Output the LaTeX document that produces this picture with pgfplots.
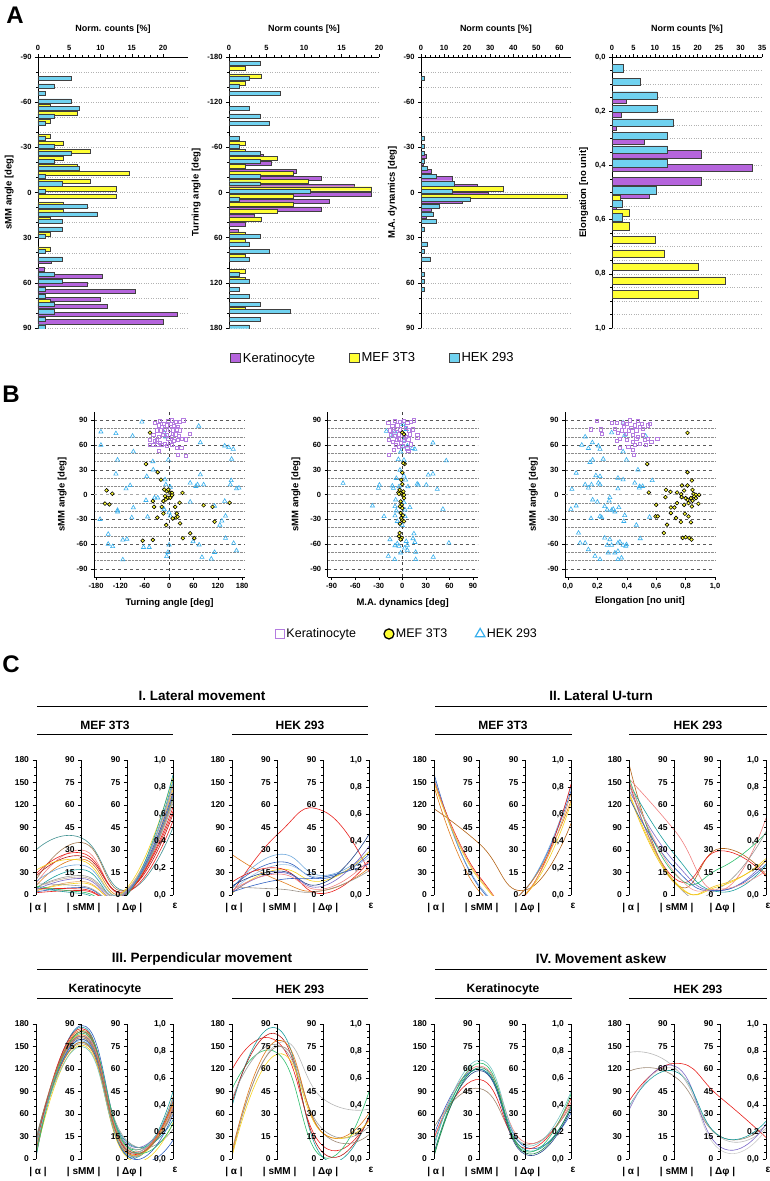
\documentclass[border=0pt]{standalone}
\usepackage{fontspec}
\setmainfont{Liberation Sans}
\usepackage{pgfplots}
\pgfplotsset{compat=1.18}

\definecolor{ker}{HTML}{B564DC}
\definecolor{mef}{HTML}{FFFF33}
\definecolor{hek}{HTML}{70D2F0}
\definecolor{kerM}{HTML}{B47CE0}
\definecolor{hekM}{HTML}{36AEEC}
\definecolor{cRed}{HTML}{E8201C}
\definecolor{cOrange}{HTML}{E07B1A}
\definecolor{cYellow}{HTML}{F5D21A}
\definecolor{cBlue}{HTML}{3060C0}
\definecolor{cLBlue}{HTML}{6FA8DC}
\definecolor{cTeal}{HTML}{1A9E9E}
\definecolor{cGreen}{HTML}{2DBE6C}
\definecolor{cGray}{HTML}{9A9A9A}
\definecolor{cBrown}{HTML}{A07850}
\definecolor{cPink}{HTML}{F08080}
\definecolor{cPurple}{HTML}{7B68C8}

\pgfplotsset{
  histA/.style={
    scale only axis, width=150pt, height=271pt, anchor=north west,
    xbar, y dir=reverse, xmin=0, enlargelimits=false,
    axis x line*=top, axis y line*=left,
    tick align=outside, major tick length=3pt, minor tick length=1.8pt,
    every tick/.style={black, line width=0.5pt},
    axis line style={black, line width=0.6pt},
    ymajorgrids, yminorgrids,
    major grid style={dotted, black!30, line width=0.45pt},
    minor grid style={dotted, black!30, line width=0.45pt},
    ticklabel style={font=\bfseries\fontsize{7.5}{8}\selectfont},
    xlabel style={font=\bfseries\fontsize{9}{10}\selectfont,
      at={(axis description cs:0.5,1)}, anchor=south, yshift=20pt},
    ylabel style={font=\bfseries\fontsize{9.5}{10}\selectfont},
    /pgf/number format/assume math mode=true,
    minor x tick num=4,
    every axis plot/.append style={draw=black!75, line width=0.45pt},
  },
  scatB/.style={
    scale only axis, height=165pt, anchor=north west,
    axis lines*=left, enlargelimits=false, clip=false,
    ymin=-100, ymax=100, ytick={-90,-60,...,90},
    minor ytick={-80,-70,-50,-40,-20,-10,10,20,40,50,70,80},
    ymajorgrids, yminorgrids,
    major grid style={dashed, black!65, line width=0.5pt},
    minor grid style={densely dotted, black!45, line width=0.5pt},
    tick align=outside, major tick length=3pt, minor tick length=0pt,
    every tick/.style={black, line width=0.5pt},
    axis line style={black, line width=0.6pt},
    extra y ticks={0}, extra y tick labels={},
    extra y tick style={grid=major, major grid style={black!35, line width=1.4pt}, major tick length=0pt},
    ticklabel style={font=\bfseries\fontsize{7.5}{8}\selectfont},
    label style={font=\bfseries\fontsize{9.5}{10}\selectfont},
    ylabel={sMM angle [deg]},
    /pgf/number format/assume math mode=true,
  },
  vline0/.style={extra x ticks={0}, extra x tick labels={},
    extra x tick style={grid=major, major grid style={black!75, line width=0.6pt}, major tick length=0pt}},
  kerS/.style={only marks, mark=square, mark size=1.6pt, mark options={draw=kerM, line width=0.5pt, fill=none}},
  mefS/.style={only marks, mark=*, mark size=1.9pt, mark options={fill=mef, draw=black, line width=0.6pt}},
  hekS/.style={only marks, mark=triangle, mark size=2.4pt, mark options={draw=hekM, line width=0.6pt}},
  paraY/.style={
    scale only axis, width=1pt, height=135pt, anchor=south west,
    xmin=0, xmax=1, ymin=0, axis x line=none, axis y line*=left,
    tick align=outside, major tick length=3.5pt, minor tick length=2pt,
    every tick/.style={black, line width=0.5pt},
    axis line style={line width=0.7pt, black},
    yticklabel style={font=\bfseries\fontsize{8.5}{9}\selectfont},
    /pgf/number format/assume math mode=true,
  },
  paraD/.style={
    scale only axis, width=137pt, height=135pt, anchor=south west,
    xmin=0, xmax=3, ymin=0, ymax=180,
    axis line style={draw=none}, ytick=\empty,
    xtick={0,1,2,3}, xticklabels={{| α |},{| sMM |},{| Δφ |},{ε}},
    xtick style={draw=none}, major tick length=0pt,
    xticklabel style={font=\bfseries\fontsize{10}{11}\selectfont, yshift=-5pt, xshift=2pt},
    clip mode=individual,
    every axis plot/.append style={smooth, tension=0.9, line width=0.6pt, no marks},
  },
}

% one line of a parallel-coordinates plot: alpha (0-180), sMM (0-90), dphi (0-90), eps (0-1)
\newcommand\pc[5]{%
  \pgfmathsetmacro\ys{2*#3}\pgfmathsetmacro\yd{2*#4}\pgfmathsetmacro\ye{180*#5}%
  \edef\pctmp{\noexpand\addplot[\unexpanded{#1}] coordinates {(0,#2) (1,\ys) (2,\yd) (3,\ye)};}\pctmp}

\newcommand\paraaxes[2]{%
  \begin{axis}[paraY, at={(#1pt,-#2pt)}, ymax=180, ytick={0,30,...,180}, minor y tick num=2]
    \addplot[draw=none] coordinates {(0,0)};
  \end{axis}
  \begin{axis}[paraY, at={(#1pt+45.67pt,-#2pt)}, ymax=90, ytick={0,15,...,90}, minor y tick num=2]
    \addplot[draw=none] coordinates {(0,0)};
  \end{axis}
  \begin{axis}[paraY, at={(#1pt+91.33pt,-#2pt)}, ymax=90, ytick={0,15,...,90}, minor y tick num=2]
    \addplot[draw=none] coordinates {(0,0)};
  \end{axis}
  \begin{axis}[paraY, at={(#1pt+137pt,-#2pt)}, ymax=1, ytick={0,0.2,0.4,0.6,0.8,1}, minor y tick num=3,
      yticklabel style={/pgf/number format/.cd, use comma, fixed, fixed zerofill, precision=1}]
    \addplot[draw=none] coordinates {(0,0)};
  \end{axis}}

\begin{document}
\begin{tikzpicture}
\useasboundingbox (0,0) rectangle (769pt,-1181pt);

% ---------------- A ----------------
\node[font=\bfseries\fontsize{24}{26}\selectfont] at (15pt,-15pt) {A};

\begin{axis}[histA, at={(38pt,-57pt)}, xmax=24, xtick={0,5,...,20},
  ymin=-90, ymax=90, ytick={-90,-60,...,90}, minor y tick num=2, bar width=2.7,
  xlabel={Norm. counts [\%]}, ylabel={sMM angle [deg]}]
\addplot[fill=ker, bar shift=-1.667] coordinates {(2.1,47.5)(1.0,52.5)(10.2,57.5)(7.8,62.5)(15.5,67.5)(9.9,72.5)(11.1,77.5)(22.2,82.5)(20.0,87.5)};
\addplot[fill=mef, bar shift=0] coordinates {(2.0,-57.5)(6.2,-52.5)(2.0,-47.5)(2.0,-37.5)(4.1,-32.5)(8.3,-27.5)(4.1,-22.5)(6.2,-17.5)(14.6,-12.5)(8.3,-7.5)(12.5,-2.5)(12.5,2.5)(4.1,7.5)(4.1,12.5)(2.0,17.5)(2.0,27.5)(2.0,37.5)(2.0,72.5)};
\addplot[fill=hek, bar shift=1.667] coordinates {(5.25,-77.5)(2.6,-72.5)(1.2,-67.5)(5.25,-62.5)(6.6,-57.5)(2.6,-52.5)(1.2,-47.5)(1.2,-37.5)(2.6,-32.5)(5.25,-27.5)(2.6,-22.5)(6.6,-17.5)(1.2,-12.5)(3.9,-7.5)(1.2,-2.5)(7.9,7.5)(9.4,12.5)(3.9,17.5)(3.9,22.5)(1.2,27.5)(1.2,37.5)(3.9,42.5)(2.6,52.5)(3.9,57.5)(1.2,62.5)(1.2,67.5)(2.6,72.5)(2.6,77.5)(1.2,82.5)(1.2,87.5)};
\end{axis}

\begin{axis}[histA, at={(229pt,-57pt)}, xmax=20, xtick={0,5,...,20},
  ymin=-180, ymax=180, ytick={-180,-120,...,180}, minor y tick num=2, bar width=5.3,
  xlabel={Norm counts [\%]}, ylabel={Turning angle [deg]},
  legend image code/.code={\draw[#1] (0pt,-4.5pt) rectangle (10pt,4.5pt);},
  legend style={at={(axis description cs:0.96,-0.111)}, anchor=center, draw=none, fill=none,
    font=\fontsize{13}{14}\selectfont, legend columns=3,
    /tikz/every even column/.append style={column sep=32pt}}]
\addplot[forget plot, fill=ker, bar shift=-3.333] coordinates {(4.5,-45)(5.6,-35)(8.9,-25)(12.3,-15)(16.7,-5)(19.0,5)(13.4,15)(12.3,25)(3.3,35)(2.2,45)(1.2,55)};
\addplot[forget plot, fill=mef, bar shift=0] coordinates {(2.2,-165)(4.3,-155)(2.2,-145)(2.2,-65)(2.2,-55)(6.4,-45)(2.2,-35)(8.5,-25)(10.6,-15)(19.0,-5)(8.5,5)(8.5,15)(6.4,25)(4.3,35)(2.2,55)(2.2,65)(2.2,85)(2.2,105)(2.2,115)(2.2,155)};
\addplot[forget plot, fill=hek, bar shift=3.333] coordinates {(4.1,-175)(2.65,-155)(1.3,-145)(6.8,-135)(2.65,-115)(4.1,-105)(5.4,-95)(1.3,-75)(1.3,-65)(4.1,-55)(4.1,-45)(4.1,-25)(4.1,-15)(10.8,-5)(1.3,5)(4.1,55)(2.65,65)(5.4,75)(2.65,85)(1.3,105)(2.65,115)(1.3,125)(2.65,135)(4.1,145)(8.1,155)(4.1,165)(2.65,175)};
\addlegendimage{fill=ker, draw=black!75, line width=0.5pt}\addlegendentry{Keratinocyte}
\addlegendimage{fill=mef, draw=black!75, line width=0.5pt}\addlegendentry{MEF 3T3}
\addlegendimage{fill=hek, draw=black!75, line width=0.5pt}\addlegendentry{HEK 293}
\end{axis}

\begin{axis}[histA, at={(421pt,-57pt)}, xmax=65, xtick={0,10,...,60},
  ymin=-90, ymax=90, ytick={-90,-60,...,90}, minor y tick num=2, bar width=2.7,
  xlabel={Norm counts [\%]}, ylabel={M.A. dynamics [deg]}]
\addplot[fill=ker, bar shift=-1.667] coordinates {(2.2,-22.5)(1.0,-17.5)(4.3,-12.5)(13.4,-7.5)(24.5,-2.5)(29,2.5)(17.7,7.5)(4.3,12.5)(2.2,17.5)};
\addplot[fill=mef, bar shift=0] coordinates {(35.8,-2.5)(63.5,2.5)};
\addplot[fill=hek, bar shift=1.667] coordinates {(1.2,-77.5)(1.2,-37.5)(1.2,-32.5)(1.2,-27.5)(1.5,-22.5)(2.6,-17.5)(6.6,-12.5)(14.6,-7.5)(13.4,-2.5)(21.4,2.5)(7.8,7.5)(5.2,12.5)(6.6,17.5)(1.2,22.5)(2.6,32.5)(1.2,37.5)(4.0,42.5)(1.2,52.5)(1.2,57.5)(1.2,62.5)};
\end{axis}

\begin{axis}[histA, at={(612pt,-57pt)}, xmax=35, xtick={0,5,...,35},
  ymin=0, ymax=1, ytick={0,0.2,0.4,0.6,0.8,1}, minor y tick num=3, bar width=0.027,
  yticklabel style={/pgf/number format/.cd, use comma, fixed, fixed zerofill, precision=1},
  xlabel={Norm counts [\%]}, ylabel={Elongation [no unit]}]
\addplot[fill=ker, bar shift=-0.01667] coordinates {(3.3,0.175)(2.1,0.225)(1.0,0.275)(7.6,0.325)(20.8,0.375)(32.8,0.425)(20.8,0.475)(8.8,0.525)(1.0,0.575)(1.0,0.625)};
\addplot[fill=mef, bar shift=0] coordinates {(2.0,0.525)(4.1,0.575)(4.0,0.625)(10.1,0.675)(12.1,0.725)(20.2,0.775)(26.4,0.825)(20.2,0.875)};
\addplot[fill=hek, bar shift=0.01667] coordinates {(2.6,0.025)(6.5,0.075)(10.5,0.125)(10.5,0.175)(14.4,0.225)(13.0,0.275)(13.0,0.325)(13.0,0.375)(10.4,0.475)(2.5,0.525)(2.5,0.575)};
\end{axis}

% ---------------- B ----------------
\node[font=\bfseries\fontsize{24}{26}\selectfont] at (11pt,-394pt) {B};

\begin{axis}[scatB, vline0, at={(94pt,-412pt)}, width=151pt, xmin=-185, xmax=187,
  xtick={-180,-120,...,180}, xlabel={Turning angle [deg]}]
\addplot[hekS] coordinates {(-67,88)(-168,76)(-168,60)(-131,74)(-90,71)(-88,52)(-127,42)(-131,25)(-96,11)(-106,7)(-57,-7)(-55,22)(-40,40)(-39,30)(-12,75)(-8,70)(-2,42)(73,83)(77,63)(77,24)(52,14)(66,10)(70,12)(85,12)(137,59)(147,57)(158,55)(154,43)(153,17)(151,12)(166,7)(172,8)(-36,-4)(-10,18)(-8,12)(3,9)(-28,-4)(-127,-19)(-127,-21)(-88,-16)(-92,-28)(-53,-27)(-170,-30)(-16,-16)(-12,-18)(0,-22)(3,-26)(52,-9)(112,-14)(137,-8)(139,-26)(130,-32)(125,-37)(-150,-48)(-150,-60)(-139,-63)(-114,-55)(-104,-54)(-63,-64)(-49,-64)(0,-61)(-3,-70)(-6,-75)(59,-57)(74,-61)(81,-76)(104,-78)(112,-70)(139,-53)(159,-59)(166,-68)(-114,-79)};
\addplot[kerS] coordinates {(-35,87)(-24,89)(-14,86)(-2,89)(7,90)(17,88)(26,88)(35,90)(-26,84)(-18,82)(-6,84)(5,86)(12,83)(21,82)(-31,78)(-20,78)(-10,79)(1,79)(9,78)(19,79)(27,78)(50,74)(-39,72)(-26,70)(-16,72)(-6,72)(7,70)(15,73)(23,71)(31,68)(42,67)(-47,66)(-35,65)(-24,63)(-10,62)(2,64)(11,65)(21,66)(-47,60)(-39,60)(-29,60)(-18,60)(-6,59)(7,60)(19,57)(30,57)(-26,53)(21,48)(41,47)(-31,66)(-2,68)(9,74)};
\addplot[mefS] coordinates {(-47,75)(-57,37)(-28,27)(-20,18)(-154,5)(-140,1)(-158,-11)(-147,-12)(-40,-8)(-37,-15)(-29,-28)(-12,6)(-6,4)(-2,6)(3,2)(7,2)(-10,-2)(-3,-4)(3,-4)(-14,-8)(-8,-6)(-18,-15)(-14,-23)(15,-15)(19,-23)(17,-28)(21,-27)(9,-29)(26,-10)(33,2)(-7,-37)(27,-35)(85,-13)(107,-15)(112,-33)(149,-10)(-65,-56)(-40,-55)(34,-53)(52,-47)(62,-53)(7,-1)};
\end{axis}

\begin{axis}[scatB, vline0, at={(327.7pt,-412pt)}, width=150pt, xmin=-95, xmax=96,
  xtick={-90,-60,...,90}, xlabel={M.A. dynamics [deg]},
  legend style={at={(axis description cs:0.53,-0.345)}, anchor=center, draw=none, fill=none,
    font=\fontsize{12.5}{14}\selectfont, legend columns=3,
    /tikz/every even column/.append style={column sep=26pt}}]
\addplot[forget plot, hekS] coordinates {(-20.3,76.7)(-12.7,71)(-9.3,76)(0.8,85)(5,79)(2.1,66)(6.4,59)(12.7,56)(16,55)(39,62.7)(56,41)(-5,42.6)(2.1,41.8)(-2.1,51.8)(-3,29.7)(2.1,22.5)(-7.6,19.7)(4.2,17.7)(19,12.9)(20.3,11.6)(33,23.7)(39,25)(30.5,11.6)(44.5,6.4)(-75.4,13.7)(-29.2,11.6)(-30.5,7.6)(-12.7,10.4)(-11.4,7.6)(-4.2,9.6)(7.2,9.6)(-38,-13.7)(-23.3,-26.5)(-8.5,-6.4)(-9.3,-14.5)(-7.6,-19.7)(-9.3,-25.7)(-6.4,-32.5)(2.1,-9.6)(3.4,-18.5)(9.7,-15.7)(3.4,-26.5)(0,-37.4)(51.7,-17.7)(14.8,-47.4)(13.6,-53.4)(16,-57.9)(5,-56.7)(6.4,-61.5)(3,-64.7)(-15.7,-54.6)(-6.4,-59.5)(-4.2,-62.7)(-9.3,-61.9)(-2.1,-70.7)(6.4,-67.5)(17,-69.9)(-17.8,-74.7)(-9.7,-78.7)(17,-78.7)(39.4,-75.9)(59.3,-58.7)(1.3,57.8)};
\addplot[forget plot, kerS] coordinates {(-17.8,87)(-12.7,83)(-9.3,89)(-6.4,84)(-3,88)(2.1,89)(6.4,87)(10.6,88)(14.8,90)(-16,78)(-10.6,77)(-7.6,80)(-3.4,79)(4.2,81)(8.5,78)(13.6,79)(-14.8,72)(-9.3,71)(-5,73)(2.1,72)(9.7,73)(19,72)(19,69)(-17,66)(-11.9,64)(-7.2,66)(-2.1,63)(2.1,65)(7.6,67)(-8.5,60)(-4.2,58)(0,59)(6.4,56)(7.6,53)(-17,48)(-11.4,54)(10.6,61)(-5,68)(4.2,70)};
\addplot[forget plot, mefS] coordinates {(0,75)(2.1,73)(3,37)(1.3,38)(0,26.5)(-1.3,17.7)(0,12.5)(-3.4,5.6)(-5,2.4)(-2.1,1.6)(1.3,3.6)(1.3,-1.6)(2.1,-4.4)(-2.1,-8.4)(-0.8,-12.5)(-3,-14.5)(0,-16.5)(-2.1,-22.5)(0.8,-25.3)(-1.3,-28.5)(0,-31.3)(2.1,-32.5)(-3,-35.4)(-3.4,-46.6)(-4.2,-50.6)(-0.8,-52.6)(-2.1,-54.6)(2.1,-0.4)(-4.2,0.8)};
\addlegendimage{only marks, mark=square, mark size=4.5pt, mark options={draw=kerM, line width=1.1pt}}\addlegendentry{Keratinocyte}
\addlegendimage{only marks, mark=*, mark size=5pt, mark options={fill=mef, draw=black, line width=1.3pt}}\addlegendentry{MEF 3T3}
\addlegendimage{only marks, mark=triangle, mark size=5.5pt, mark options={draw=hekM, line width=1.2pt}}\addlegendentry{HEK 293}
\end{axis}

\begin{axis}[scatB, at={(565pt,-412pt)}, width=150pt, xmin=-0.02, xmax=1,
  xtick={0,0.2,0.4,0.6,0.8,1}, xlabel={Elongation [no unit]},
  xticklabel style={/pgf/number format/.cd, use comma, fixed, fixed zerofill, precision=1}]
\addplot[hekS] coordinates {(0.375,87)(0.297,75)(0.386,72)(0.117,70)(0.094,60)(0.139,56)(0.166,63)(0.207,59)(0.218,55)(0.375,52)(0.24,43)(0.15,39)(0.168,42)(0.398,42)(0.476,30)(0.056,26)(0.19,23)(0.218,22)(0.207,14)(0.218,12)(0.117,12)(0.139,8)(0.16,12)(0.34,20)(0.375,18)(0.34,7)(0.454,14)(0.488,10)(0.485,8)(0.508,10)(0.573,17)(0.027,6.4)(0.528,71)(0.285,-3.6)(0.28,-7.6)(0.168,-6.4)(0.2,-9)(0.056,-13.7)(0.02,-17.7)(0.157,-29)(0.218,-26.5)(0.229,-27.7)(0.25,-14.5)(0.267,-18.5)(0.297,-19)(0.319,-21)(0.308,-17.7)(0.346,-15.7)(0.386,-25.3)(0.38,-32.5)(0.555,-27.3)(0.465,-37)(0.492,-53.4)(0.072,-46.6)(0.083,-58.7)(0.117,-58.7)(0.139,-66.7)(0.25,-52.6)(0.285,-54.6)(0.267,-61.5)(0.297,-61.5)(0.274,-70.7)(0.319,-70.7)(0.184,-74.7)(0.218,-78.7)(0.34,-58.7)(0.375,-61.5)(0.393,-62.7)(0.398,-60.7)(0.34,-78.7)(0.364,-76.7)(0.34,-68.7)(0.353,-57.5)};
\addplot[kerS] coordinates {(0.155,79)(0.195,89)(0.222,79)(0.229,74)(0.297,87)(0.33,87)(0.32,80)(0.34,75)(0.33,65)(0.353,68)(0.353,57)(0.375,87)(0.393,74)(0.398,66)(0.41,58)(0.42,90)(0.43,81)(0.443,72)(0.443,64)(0.438,54)(0.447,48)(0.454,84)(0.465,78)(0.476,89)(0.476,70)(0.488,62)(0.5,86)(0.51,80)(0.51,72)(0.52,66)(0.528,60)(0.544,84)(0.555,86)(0.544,68)(0.566,64)(0.607,68)(0.488,82)(0.465,68)(0.416,78)(0.38,82)(0.364,78)(0.398,86)(0.454,60)};
\addplot[mefS] coordinates {(0.813,74.7)(0.539,37)(0.55,2.4)(0.813,27)(0.843,17)(0.775,11)(0.813,11)(0.667,5.6)(0.697,3.2)(0.742,2.4)(0.77,0.4)(0.79,4.8)(0.847,5.6)(0.854,0.8)(0.87,-0.4)(0.892,-0.4)(0.858,-2.4)(0.836,-4.4)(0.813,-6.4)(0.847,-7.6)(0.8,-4.4)(0.773,-3.2)(0.79,-12.5)(0.82,-10.4)(0.843,-14.5)(0.887,-11.2)(0.87,-4.4)(0.6,-12.5)(0.596,-26.5)(0.611,-26.5)(0.663,-3.2)(0.7,-15.7)(0.724,-15.7)(0.7,-22.5)(0.742,-10.4)(0.735,-28.5)(0.674,-36.6)(0.768,-33.3)(0.795,-23.3)(0.82,-26.5)(0.836,-33.7)(0.652,-46.6)(0.78,-52.6)(0.8,-51.8)(0.825,-52.6)(0.84,-54.6)};
\end{axis}

% ---------------- C ----------------
\node[font=\bfseries\fontsize{24}{26}\selectfont] at (11pt,-664pt) {C};
\tikzset{ttl/.style={font=\bfseries\fontsize{13.5}{15}\selectfont}, sub/.style={font=\bfseries\fontsize{12}{13}\selectfont}}
\node[ttl] at (202pt,-696pt) {I. Lateral movement};
\draw[line width=0.8pt] (37pt,-706pt) -- (368pt,-706pt);
\node[ttl] at (601pt,-696pt) {II. Lateral U-turn};
\draw[line width=0.8pt] (435pt,-706pt) -- (767pt,-706pt);
\node[sub] at (105pt,-725pt) {MEF 3T3};
\draw[line width=0.8pt] (37pt,-734pt) -- (173pt,-734pt);
\node[sub] at (300pt,-725pt) {HEK 293};
\draw[line width=0.8pt] (232pt,-734pt) -- (368pt,-734pt);
\node[sub] at (503pt,-725pt) {MEF 3T3};
\draw[line width=0.8pt] (435pt,-734pt) -- (572pt,-734pt);
\node[sub] at (698pt,-725pt) {HEK 293};
\draw[line width=0.8pt] (629pt,-734pt) -- (767pt,-734pt);

\node[ttl] at (202pt,-959pt) {III. Perpendicular movement};
\draw[line width=0.8pt] (37pt,-969pt) -- (368pt,-969pt);
\node[ttl] at (601pt,-959pt) {IV. Movement askew};
\draw[line width=0.8pt] (435pt,-969pt) -- (767pt,-969pt);
\node[sub] at (105pt,-989pt) {Keratinocyte};
\draw[line width=0.8pt] (37pt,-998pt) -- (173pt,-998pt);
\node[sub] at (300pt,-989pt) {HEK 293};
\draw[line width=0.8pt] (232pt,-998pt) -- (368pt,-998pt);
\node[sub] at (503pt,-989pt) {Keratinocyte};
\draw[line width=0.8pt] (435pt,-998pt) -- (572pt,-998pt);
\node[sub] at (698pt,-989pt) {HEK 293};
\draw[line width=0.8pt] (629pt,-998pt) -- (767pt,-998pt);

% I. MEF 3T3
\begin{axis}[paraD, at={(36pt,-895pt)}]
\pc{cTeal!60!gray}{60}{38}{3}{0.50}
\pc{cBrown}{20}{35}{4}{0.75}
\pc{cPink}{15}{30}{3}{0.80}
\pc{cRed}{28}{28}{2}{0.55}
\pc{cRed!80!black}{25}{26}{3}{0.60}
\pc{cOrange}{12}{24}{2}{0.72}
\pc{cYellow}{33}{23}{2}{0.78}
\pc{cTeal}{8}{17}{2}{0.85}
\pc{cGray}{10}{13}{3}{0.70}
\pc{cBrown!60}{10}{12}{4}{0.80}
\pc{cOrange!70}{5}{9}{3}{0.82}
\pc{cYellow}{6}{8}{5}{0.87}
\pc{cBlue}{4}{5}{2}{0.76}
\pc{cRed}{3}{3}{1}{0.62}
\pc{cTeal}{10}{1}{0}{0.89}
\pc{cGray}{15}{6}{2}{0.68}
\pc{cRed}{8}{4}{1}{0.65}
\pc{cGreen}{12}{2}{1}{0.73}
\pc{cLBlue}{18}{20}{3}{0.83}
\pc{cPurple}{7}{11}{2}{0.74}
\end{axis}
\paraaxes{36}{895}

% I. HEK 293
\begin{axis}[paraD, at={(232pt,-895pt)}]
\pc{cRed}{2}{40.5}{56}{0.17}
\pc{cOrange}{54}{10}{3}{0.20}
\pc{cLBlue}{8}{27}{13}{0.32}
\pc{cBlue}{10}{22}{11}{0.30}
\pc{cLBlue!70}{5}{20}{12}{0.28}
\pc{cYellow}{2}{17}{9.5}{0.32}
\pc{cRed}{17}{18}{1}{0.25}
\pc{cBlue!70!black}{12}{16}{8}{0.45}
\pc{cPurple}{3}{15}{6}{0.36}
\pc{cBlue}{4}{10}{12}{0.23}
\pc{cGray!80!cBrown}{11}{4}{3}{0.18}
\pc{cPink}{6}{14}{4}{0.26}
\end{axis}
\paraaxes{232}{895}

% II. MEF 3T3
\begin{axis}[paraD, at={(434pt,-895pt)}]
\pc{cOrange!80!black}{115}{34}{3.3}{0.53}
\pc{cBlue}{162}{5}{3.8}{0.77}
\pc{cLBlue}{158}{6}{4}{0.80}
\pc{cRed}{153}{12}{0}{0.82}
\pc{cOrange}{145}{2}{4}{0.70}
\pc{cYellow}{150}{10}{0.5}{0.68}
\pc{cOrange!70}{152}{11}{1}{0.75}
\end{axis}
\paraaxes{434}{895}

% II. HEK 293
\begin{axis}[paraD, at={(629pt,-895pt)}]
\pc{cOrange!80!black}{175}{8}{31}{0.15}
\pc{cPink}{155}{43}{3}{0.57}
\pc{cTeal}{150}{27}{2}{0.22}
\pc{cPurple}{140}{22}{3}{0.26}
\pc{cRed}{152}{11}{29.5}{0.14}
\pc{cGreen}{157}{14}{18}{0.46}
\pc{cGray}{148}{8.5}{5}{0.47}
\pc{cYellow}{138}{9}{6}{0.27}
\pc{cYellow!80!cOrange}{135}{8}{7}{0.25}
\pc{cBlue}{130}{18}{3}{0.23}
\pc{cPink!80}{153}{15}{4}{0.18}
\end{axis}
\paraaxes{629}{895}

% III. Keratinocyte
\begin{axis}[paraD, at={(36pt,-1159pt)}]
\pc{cBlue}{2}{89}{5}{0.14}
\pc{cTeal}{5}{88}{2}{0.50}
\pc{cOrange}{8}{86}{3}{0.46}
\pc{cRed}{10}{85}{6}{0.44}
\pc{cGreen}{12}{84}{8}{0.42}
\pc{cYellow}{14}{83}{4}{0.40}
\pc{cPurple}{16}{82}{10}{0.38}
\pc{cBrown}{18}{81}{6}{0.36}
\pc{cGray}{20}{80}{9}{0.34}
\pc{cLBlue}{22}{79}{3}{0.45}
\pc{cTeal}{25}{78}{11}{0.29}
\pc{cGray}{28}{77}{12}{0.22}
\pc{cYellow}{6}{76}{1}{0.27}
\pc{cRed}{15}{87}{5}{0.43}
\pc{cPink}{9}{83}{7}{0.39}
\pc{cBlue}{11}{80}{2}{0.33}
\pc{cOrange}{13}{78}{4}{0.41}
\pc{cGreen}{4}{85}{8}{0.26}
\pc{cBrown}{24}{82}{6}{0.37}
\pc{cTeal!60}{17}{75}{5}{0.44}
\end{axis}
\paraaxes{36}{1159}

% III. HEK 293
\begin{axis}[paraD, at={(232pt,-1159pt)}]
\pc{cRed}{119}{78}{8.5}{0.30}
\pc{cGreen}{93}{70.5}{1}{0.50}
\pc{cTeal}{70}{87}{1}{0.32}
\pc{cRed!80!black}{75}{83}{4}{0.31}
\pc{cGray}{80}{76}{19.5}{0.24}
\pc{cGray!70}{12}{77}{40}{0.37}
\pc{cGray!50!cBrown}{5}{75}{17}{0.18}
\pc{cYellow}{3}{70}{17}{0.28}
\pc{cOrange}{8}{79}{17}{0.34}
\end{axis}
\paraaxes{232}{1159}

% IV. Keratinocyte
\begin{axis}[paraD, at={(434pt,-1159pt)}]
\pc{cBrown!60!cGray}{42}{47}{10}{0.40}
\pc{cBlue}{32}{60}{8}{0.34}
\pc{cRed}{28}{53}{7}{0.45}
\pc{cPink}{25}{62}{11}{0.42}
\pc{cTeal}{20}{60}{6}{0.38}
\pc{cTeal!60}{15}{66}{9}{0.50}
\pc{cBlue!70!black}{8}{59}{3}{0.37}
\pc{cGreen}{5}{64}{5}{0.48}
\pc{cGreen!70!black}{3}{61}{4}{0.39}
\end{axis}
\paraaxes{434}{1159}

% IV. HEK 293
\begin{axis}[paraD, at={(629pt,-1159pt)}]
\pc{cGray!70}{142}{61}{14.4}{0.23}
\pc{cBrown!50!cGray}{117}{55}{15}{0.25}
\pc{cRed}{77}{63.8}{41}{0.16}
\pc{cPurple}{65}{62}{8}{0.26}
\pc{cTeal}{70}{58.5}{15}{0.28}
\pc{cGray!50}{68}{60}{6}{0.22}
\end{axis}
\paraaxes{629}{1159}

\end{tikzpicture}
\end{document}
